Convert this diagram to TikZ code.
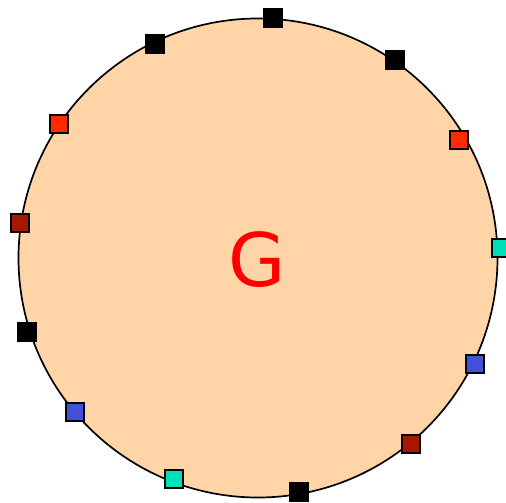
\documentclass[tikz,border=0pt]{standalone}
\usepackage{fontspec}
\setsansfont{DejaVu Sans}
\definecolor{peach}{RGB}{255,213,168}
\definecolor{portred}{RGB}{255,42,0}
\definecolor{portdark}{RGB}{170,21,0}
\definecolor{portblue}{RGB}{68,80,216}
\definecolor{portcyan}{RGB}{0,224,184}
\begin{document}
\begin{tikzpicture}[x=1pt, y=-1pt,
    port/.style={draw=black, line width=1.3pt, minimum size=18pt, inner sep=0pt}]
    \useasboundingbox (0,0) rectangle (506,503);

    % the group
    \node[circle, draw, line width=1.7pt, fill=peach, minimum size=479pt, inner sep=0pt] (grp) at (258,258) {};
    \node[red, font=\sffamily\fontsize{74}{74}\selectfont] (grplabel) at (257,260) {G};

    % ports on the rim
    \foreach \px/\py/\col [count=\i] in {273/18/black, 155/44/black, 395/60/black,
        59/124/portred, 459/140/portred, 20/223/portdark, 501/248/portcyan,
        27/332/black, 475/364/portblue, 75/412/portblue, 411/444/portdark,
        174/479/portcyan, 299/492/black}
    { \node[port, fill=\col] (p\i) at (\px,\py) {}; }
\end{tikzpicture}
\end{document}
